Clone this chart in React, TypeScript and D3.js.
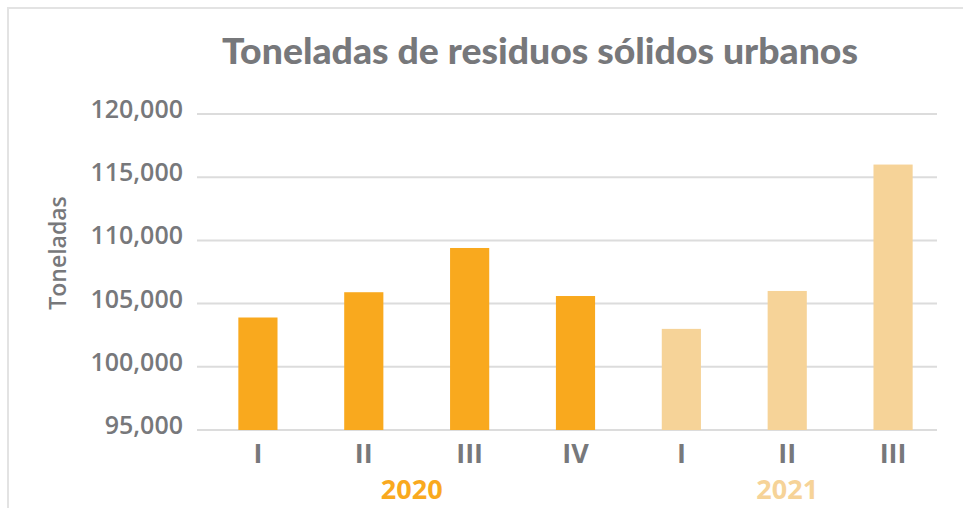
import { useRef, useEffect } from "react";
import * as d3 from "d3";

// Quarterly tonnage
const QUARTERS = ["I", "II", "III", "IV", "I", "II", "III"];
const YEARS = ["2020", "2020", "2020", "2020", "2021", "2021", "2021"];
const TONNES = [103900, 105900, 109400, 105600, 103000, 106000, 116000];
const Y_TICKS = [95000, 100000, 105000, 110000, 115000, 120000];
const YEAR_GROUPS = ["2020", "2021"];

const YEAR_COLORS: Record<string, string> = {
  "2020": "#F9A91E",
  "2021": "#F6D398",
};
const TEXT_GRAY = "#77787B";
const GRID = "#DCDCDC";

export default function App() {
  const svgRef = useRef<SVGSVGElement>(null);

  useEffect(() => {
    if (!svgRef.current) return;
    const width = 963;
    const height = 508;
    const svg = d3.select(svgRef.current);
    svg.selectAll("*").remove();
    svg.attr("width", width).attr("height", height);

    // ── Frame ─────────────────────────────────────────────
    svg.append("rect")
      .attr("x", 8).attr("y", 8)
      .attr("width", width + 20).attr("height", height + 20)
      .attr("fill", "#fff")
      .attr("stroke", "#E3E3E3")
      .attr("stroke-width", 2);

    // ── Scales ────────────────────────────────────────────
    const keys = QUARTERS.map((q, i) => `${YEARS[i]}-${q}`);
    const x = d3.scaleBand<string>()
      .domain(keys)
      .range([205, 946])
      .paddingInner(0.63)
      .paddingOuter(0.315);
    const y = d3.scaleLinear().domain([95000, 120000]).range([430, 114]);
    const gridX0 = 197;
    const gridX1 = 937;

    // ── Grid + y labels ───────────────────────────────────
    const fmt = d3.format(",");
    svg.append("g")
      .selectAll("line")
      .data(Y_TICKS)
      .join("line")
      .attr("x1", gridX0).attr("x2", gridX1)
      .attr("y1", (d) => y(d)).attr("y2", (d) => y(d))
      .attr("stroke", GRID)
      .attr("stroke-width", 2);

    svg.append("g")
      .selectAll("text")
      .data(Y_TICKS)
      .join("text")
      .attr("x", 183)
      .attr("y", (d) => y(d) + 4)
      .attr("text-anchor", "end")
      .attr("font-family", "'Open Sans', sans-serif")
      .attr("font-weight", 600)
      .attr("font-size", 25)
      .attr("fill", TEXT_GRAY)
      .text((d) => fmt(d));

    // ── Bars ──────────────────────────────────────────────
    svg.append("g")
      .selectAll("rect")
      .data(TONNES)
      .join("rect")
      .attr("x", (_, i) => x(keys[i]) ?? 0)
      .attr("width", x.bandwidth())
      .attr("y", (d) => y(d))
      .attr("height", (d) => y(95000) - y(d))
      .attr("fill", (_, i) => YEAR_COLORS[YEARS[i]]);

    // ── X labels (quarters) ───────────────────────────────
    svg.append("g")
      .selectAll("text")
      .data(QUARTERS)
      .join("text")
      .attr("x", (_, i) => (x(keys[i]) ?? 0) + x.bandwidth() / 2)
      .attr("y", 463)
      .attr("text-anchor", "middle")
      .attr("font-family", "'Open Sans', sans-serif")
      .attr("font-weight", 700)
      .attr("font-size", 27)
      .attr("fill", TEXT_GRAY)
      .text((d) => d);

    // ── Year group labels ─────────────────────────────────
    YEAR_GROUPS.forEach((yr) => {
      const centers = keys
        .filter((_, i) => YEARS[i] === yr)
        .map((k) => (x(k) ?? 0) + x.bandwidth() / 2);
      svg.append("text")
        .attr("x", (d3.mean(centers) ?? 0) - (yr === "2020" ? 5 : 0))
        .attr("y", 499)
        .attr("text-anchor", "middle")
        .attr("font-family", "'Open Sans', sans-serif")
        .attr("font-weight", 700)
        .attr("font-size", 27)
        .attr("fill", YEAR_COLORS[yr])
        .text(yr);
    });

    // ── Y axis title ──────────────────────────────────────
    svg.append("text")
      .attr("transform", `translate(66,253) rotate(-90)`)
      .attr("text-anchor", "middle")
      .attr("font-family", "'Open Sans', sans-serif")
      .attr("font-weight", 600)
      .attr("font-size", 23)
      .attr("fill", TEXT_GRAY)
      .text("Toneladas");

    // ── Title ─────────────────────────────────────────────
    svg.append("text")
      .attr("x", 222)
      .attr("y", 64)
      .attr("textLength", 636)
      .attr("lengthAdjust", "spacingAndGlyphs")
      .attr("font-family", "Lato, sans-serif")
      .attr("font-weight", 900)
      .attr("font-size", 36)
      .attr("fill", TEXT_GRAY)
      .text("Toneladas de residuos sólidos urbanos");
  }, []);

  return (
    <div style={{ position: "absolute", left: 0, top: 0 }}>
      <svg ref={svgRef} width={963} height={508} style={{ display: "block" }} />
    </div>
  );
}
